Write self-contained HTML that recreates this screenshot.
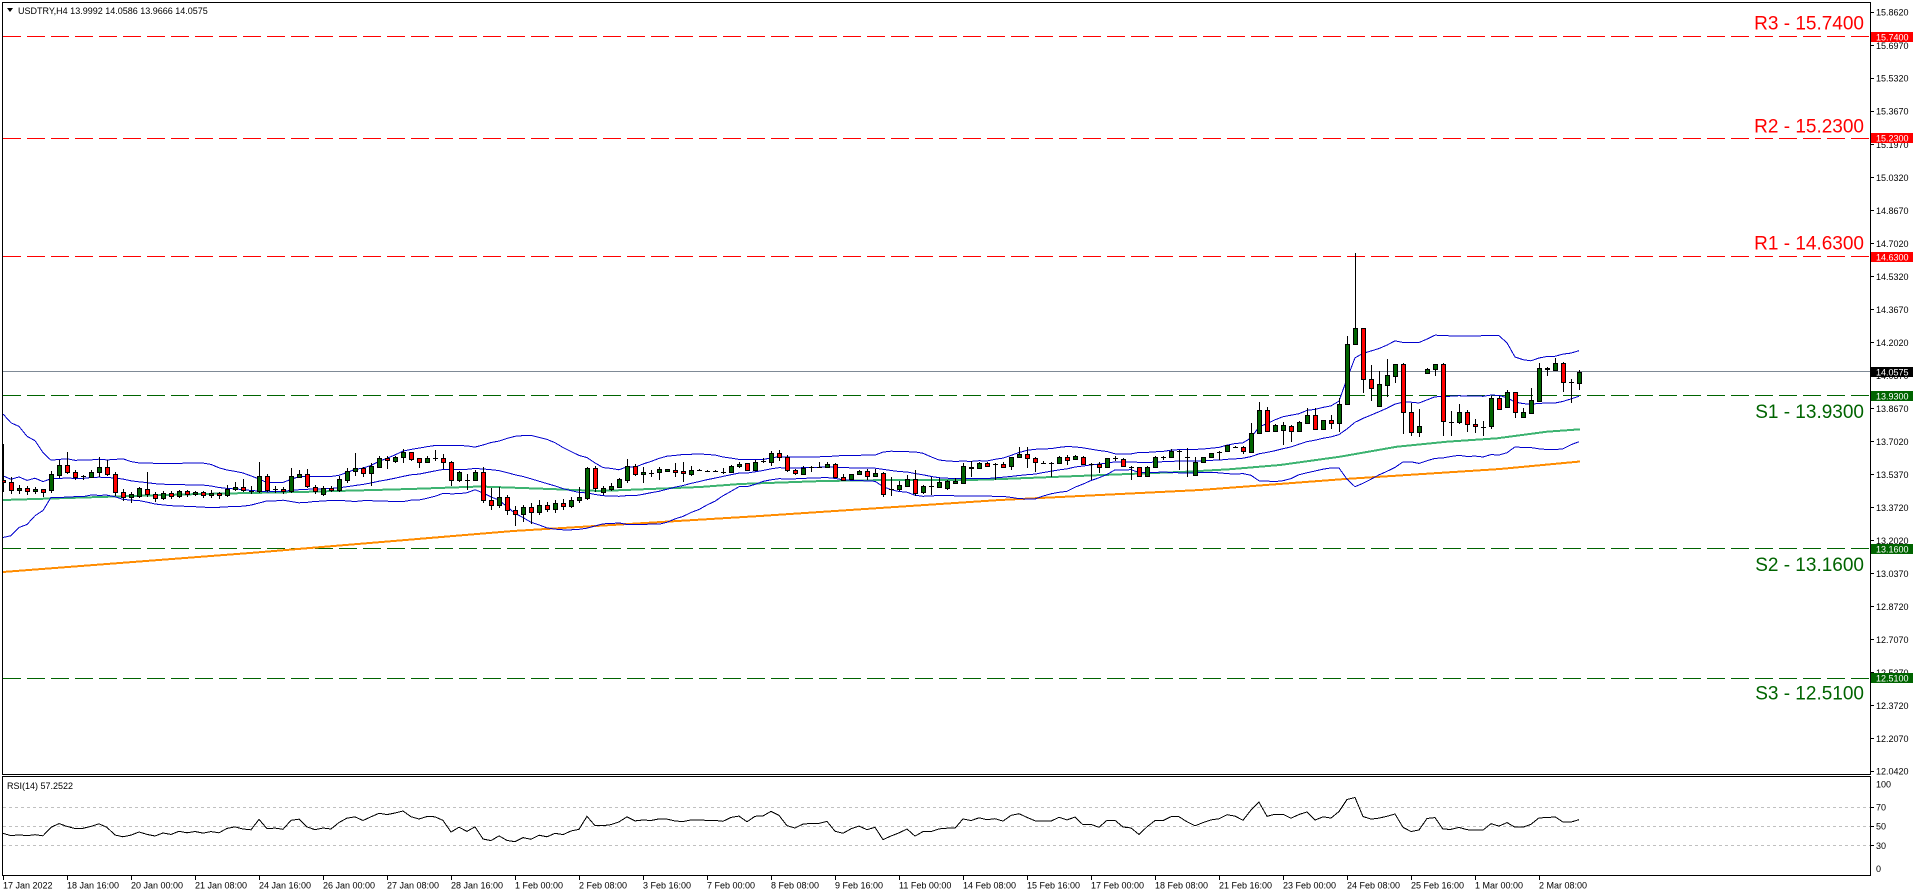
<!DOCTYPE html>
<html><head><meta charset="utf-8">
<style>
html,body{margin:0;padding:0;background:#fff;width:1916px;height:896px;overflow:hidden}
svg{display:block}
text{font-family:"Liberation Sans",sans-serif;font-size:9px;fill:#000}
.lv{font-size:19px}
</style></head><body>
<svg id="s" width="1916" height="896" viewBox="0 0 1916 896" xmlns="http://www.w3.org/2000/svg">
<defs>
<clipPath id="cm"><rect x="3" y="3" width="1867" height="771"/></clipPath>
<clipPath id="cr"><rect x="3" y="777" width="1867" height="98"/></clipPath>
</defs>
<rect width="1916" height="896" fill="#fff"/>

<g shape-rendering="crispEdges" stroke-width="1" stroke-dasharray="18 6">
<line x1="3" x2="1870" y1="36.5" y2="36.5" stroke="#ff0000"/>
<line x1="3" x2="1870" y1="138.5" y2="138.5" stroke="#ff0000"/>
<line x1="3" x2="1870" y1="256.5" y2="256.5" stroke="#ff0000"/>
<line x1="3" x2="1870" y1="395.5" y2="395.5" stroke="#006400"/>
<line x1="3" x2="1870" y1="548.5" y2="548.5" stroke="#006400"/>
<line x1="3" x2="1870" y1="678.5" y2="678.5" stroke="#006400"/>
</g>
<line x1="3" x2="1870" y1="371.5" y2="371.5" stroke="#7f8a96" stroke-width="1" shape-rendering="crispEdges"/>

<g clip-path="url(#cm)" fill="none" shape-rendering="crispEdges">
<polyline stroke="#ff8c00" stroke-width="2" points="3,572 250,553 513,531 760,516 1000,500 1200,490 1345,479 1500,469 1580,461.5"/>
<polyline stroke="#3cb371" stroke-width="2" points="3,500 100,497 200,494 300,492 410,489 480,486.5 550,489 600,491 650,489 700,487 740,484 823,481 890,480 970,480 1002,479 1103,475 1187,471.7 1229,469.3 1280,465 1340,456.7 1397,446.7 1447,441.7 1497,438.3 1547,431.7 1580,429.3"/>
<g id="bb"></g>
<g id="cdl"></g>
</g>

<g clip-path="url(#cr)" shape-rendering="crispEdges">
<g stroke="#c0c0c0" stroke-width="1" stroke-dasharray="3 3">
<line x1="3" x2="1870" y1="807.5" y2="807.5"/>
<line x1="3" x2="1870" y1="826.5" y2="826.5"/>
<line x1="3" x2="1870" y1="845.5" y2="845.5"/>
</g>
<polyline id="rsi" fill="none" stroke="#000" stroke-width="1" points=""/>
</g>

<g fill="none" stroke="#000" stroke-width="1" shape-rendering="crispEdges">
<rect x="2.5" y="2.5" width="1868" height="772"/>
<rect x="2.5" y="776.5" width="1868" height="99"/>
</g>

<!-- header -->
<polygon points="7,8 13,8 10,12" fill="#000"/>
<text x="18" y="14">USDTRY,H4  13.9992 14.0586 13.9666 14.0575</text>
<text x="7" y="789">RSI(14) 57.2522</text>

<!-- level labels -->
<text class="lv" x="1864" y="29.5" text-anchor="end" style="fill:#ff0000">R3 - 15.7400</text>
<text class="lv" x="1864" y="132.5" text-anchor="end" style="fill:#ff0000">R2 - 15.2300</text>
<text class="lv" x="1864" y="249.5" text-anchor="end" style="fill:#ff0000">R1 - 14.6300</text>
<text class="lv" x="1864" y="418" text-anchor="end" style="fill:#006400">S1 - 13.9300</text>
<text class="lv" x="1864" y="571" text-anchor="end" style="fill:#006400">S2 - 13.1600</text>
<text class="lv" x="1864" y="699.5" text-anchor="end" style="fill:#006400">S3 - 12.5100</text>

<!-- price axis ticks -->
<g stroke="#000" stroke-width="1" shape-rendering="crispEdges">
<line x1="1870" x2="1874" y1="12.5" y2="12.5"/><line x1="1870" x2="1874" y1="45.5" y2="45.5"/><line x1="1870" x2="1874" y1="78.5" y2="78.5"/><line x1="1870" x2="1874" y1="111.5" y2="111.5"/><line x1="1870" x2="1874" y1="144.5" y2="144.5"/><line x1="1870" x2="1874" y1="177.5" y2="177.5"/><line x1="1870" x2="1874" y1="210.5" y2="210.5"/><line x1="1870" x2="1874" y1="243.5" y2="243.5"/><line x1="1870" x2="1874" y1="276.5" y2="276.5"/><line x1="1870" x2="1874" y1="309.5" y2="309.5"/><line x1="1870" x2="1874" y1="342.5" y2="342.5"/><line x1="1870" x2="1874" y1="375.5" y2="375.5"/><line x1="1870" x2="1874" y1="408.5" y2="408.5"/><line x1="1870" x2="1874" y1="441.5" y2="441.5"/><line x1="1870" x2="1874" y1="474.5" y2="474.5"/><line x1="1870" x2="1874" y1="507.5" y2="507.5"/><line x1="1870" x2="1874" y1="540.5" y2="540.5"/><line x1="1870" x2="1874" y1="573.5" y2="573.5"/><line x1="1870" x2="1874" y1="606.5" y2="606.5"/><line x1="1870" x2="1874" y1="639.5" y2="639.5"/><line x1="1870" x2="1874" y1="672.5" y2="672.5"/><line x1="1870" x2="1874" y1="705.5" y2="705.5"/><line x1="1870" x2="1874" y1="738.5" y2="738.5"/><line x1="1870" x2="1874" y1="771.5" y2="771.5"/>
<line x1="1870" x2="1874" y1="807.5" y2="807.5"/><line x1="1870" x2="1874" y1="826.5" y2="826.5"/><line x1="1870" x2="1874" y1="845.5" y2="845.5"/>
</g>
<g>
<text x="1876" y="15.6">15.8620</text><text x="1876" y="49">15.6970</text><text x="1876" y="81.6">15.5320</text><text x="1876" y="114.6">15.3670</text><text x="1876" y="147.8">15.1970</text><text x="1876" y="180.8">15.0320</text><text x="1876" y="213.9">14.8670</text><text x="1876" y="246.9">14.7020</text><text x="1876" y="280">14.5320</text><text x="1876" y="313">14.3670</text><text x="1876" y="346">14.2020</text><text x="1876" y="379">14.0370</text><text x="1876" y="412">13.8670</text><text x="1876" y="445">13.7020</text><text x="1876" y="478">13.5370</text><text x="1876" y="511">13.3720</text><text x="1876" y="544">13.2020</text><text x="1876" y="577">13.0370</text><text x="1876" y="610">12.8720</text><text x="1876" y="643">12.7070</text><text x="1876" y="676">12.5370</text><text x="1876" y="709">12.3720</text><text x="1876" y="742">12.2070</text><text x="1876" y="774.5">12.0420</text>
<text x="1876" y="787.5">100</text><text x="1876" y="810.6">70</text><text x="1876" y="829.6">50</text><text x="1876" y="849">30</text><text x="1876" y="872">0</text>
</g>

<!-- axis value boxes -->
<g shape-rendering="crispEdges">
<rect x="1871" y="32" width="42" height="10" fill="#ff0000"/>
<rect x="1871" y="133" width="42" height="10" fill="#ff0000"/>
<rect x="1871" y="252" width="42" height="10" fill="#ff0000"/>
<rect x="1871" y="367" width="42" height="10" fill="#000"/>
<rect x="1871" y="391" width="42" height="10" fill="#006400"/>
<rect x="1871" y="544" width="42" height="10" fill="#006400"/>
<rect x="1871" y="673" width="42" height="10" fill="#006400"/>
</g>
<g style="fill:#fff">
<text x="1876" y="40.3" style="fill:#fff">15.7400</text>
<text x="1876" y="141.3" style="fill:#fff">15.2300</text>
<text x="1876" y="260.3" style="fill:#fff">14.6300</text>
<text x="1876" y="375.3" style="fill:#fff">14.0575</text>
<text x="1876" y="399.3" style="fill:#fff">13.9300</text>
<text x="1876" y="552.3" style="fill:#fff">13.1600</text>
<text x="1876" y="681.3" style="fill:#fff">12.5100</text>
</g>

<!-- time axis -->
<g stroke="#000" stroke-width="1" shape-rendering="crispEdges">
<line x1="3.5" x2="3.5" y1="876" y2="880"/><line x1="67.5" x2="67.5" y1="876" y2="880"/><line x1="131.5" x2="131.5" y1="876" y2="880"/><line x1="195.5" x2="195.5" y1="876" y2="880"/><line x1="259.5" x2="259.5" y1="876" y2="880"/><line x1="323.5" x2="323.5" y1="876" y2="880"/><line x1="387.5" x2="387.5" y1="876" y2="880"/><line x1="451.5" x2="451.5" y1="876" y2="880"/><line x1="515.5" x2="515.5" y1="876" y2="880"/><line x1="579.5" x2="579.5" y1="876" y2="880"/><line x1="643.5" x2="643.5" y1="876" y2="880"/><line x1="707.5" x2="707.5" y1="876" y2="880"/><line x1="771.5" x2="771.5" y1="876" y2="880"/><line x1="835.5" x2="835.5" y1="876" y2="880"/><line x1="899.5" x2="899.5" y1="876" y2="880"/><line x1="963.5" x2="963.5" y1="876" y2="880"/><line x1="1027.5" x2="1027.5" y1="876" y2="880"/><line x1="1091.5" x2="1091.5" y1="876" y2="880"/><line x1="1155.5" x2="1155.5" y1="876" y2="880"/><line x1="1219.5" x2="1219.5" y1="876" y2="880"/><line x1="1283.5" x2="1283.5" y1="876" y2="880"/><line x1="1347.5" x2="1347.5" y1="876" y2="880"/><line x1="1411.5" x2="1411.5" y1="876" y2="880"/><line x1="1475.5" x2="1475.5" y1="876" y2="880"/><line x1="1539.5" x2="1539.5" y1="876" y2="880"/>
</g>
<g>
<text x="3" y="888.5">17 Jan 2022</text>
<text x="67" y="888.5">18 Jan 16:00</text>
<text x="131" y="888.5">20 Jan 00:00</text>
<text x="195" y="888.5">21 Jan 08:00</text>
<text x="259" y="888.5">24 Jan 16:00</text>
<text x="323" y="888.5">26 Jan 00:00</text>
<text x="387" y="888.5">27 Jan 08:00</text>
<text x="451" y="888.5">28 Jan 16:00</text>
<text x="515" y="888.5">1 Feb 00:00</text>
<text x="579" y="888.5">2 Feb 08:00</text>
<text x="643" y="888.5">3 Feb 16:00</text>
<text x="707" y="888.5">7 Feb 00:00</text>
<text x="771" y="888.5">8 Feb 08:00</text>
<text x="835" y="888.5">9 Feb 16:00</text>
<text x="899" y="888.5">11 Feb 00:00</text>
<text x="963" y="888.5">14 Feb 08:00</text>
<text x="1027" y="888.5">15 Feb 16:00</text>
<text x="1091" y="888.5">17 Feb 00:00</text>
<text x="1155" y="888.5">18 Feb 08:00</text>
<text x="1219" y="888.5">21 Feb 16:00</text>
<text x="1283" y="888.5">23 Feb 00:00</text>
<text x="1347" y="888.5">24 Feb 08:00</text>
<text x="1411" y="888.5">25 Feb 16:00</text>
<text x="1475" y="888.5">1 Mar 00:00</text>
<text x="1539" y="888.5">2 Mar 08:00</text>
</g>
</svg>
<script>
var D=[[480,482.3,444,492],[482.3,490,477,494],[490,488,485,494],[488,491,486,495],[491,489,487,494],[489,492,489,497],[490,474.3,471,493],[475.3,465.3,460,478],[465.3,471.7,452.3,474],[471.7,476.7,469.5,480],
[476.3,476.3,475,480],[476.7,472.3,470,477],[471.7,467,457,476.7],[467,474,460,476],[474,492,472,496],[492,497,489,501],[497,494,492,503],[496,488.3,487,498],[488.5,494,472,497],[494,498,492,502],
[498,493,491,500],[493,496,491,499],[496,491,490,498],[491,494,490,497],[494,492,491,496],[492,495,491,498],[495,493,490,498],[493,495,492,499],[495,489,485,497],[489,487,482,491],
[487,490,479.3,492],[490,491,486,494],[491,476,462.3,493],[476,490,474,492],[490,489,485.7,493],[489,491,487,494],[491,476,468,493],[476.7,474,470,477.3],[474,486,469,488],[487.3,491,485,494],
[494,488.3,486,496],[488.3,490,486,492],[490,479.3,476,492],[480,470.7,468.3,483],[470.7,468.3,453.3,476],[468.3,473.3,466.7,476.7],[473.3,466,463.3,485.7],[466.7,458.3,456,466.7],[457.7,460,456,469.3],[460.7,456.7,456,462.7],
[456.7,452.3,449.3,462.7],[452.3,459.3,451.7,461.3],[458.3,462.3,458.3,468.3],[462.3,457.7,456,462.3],[458,458,450,461.3],[458.3,462.3,454.3,469],[462.3,480,461,485.7],[480,472.3,470.7,482.3],[480,480,474.3,490],[480,472.3,470,480.7],
[472.3,500,466.7,503],[500,505,488,510],[505,497,487.3,508],[497,510,495,515],[510,514,506,526],[514,507,505,522],[507,512,503,524],[512,505,500,515],[505,509,502,512],[509,503,500,513],
[503,506,499,510],[506,500,497,508],[500,497,487.3,503],[498,468,466.7,500],[468,488.3,465.7,492],[492,488.3,486,495],[489,485.7,483.3,491],[486.7,479.3,478.3,488],[480,466,459,483.3],[465.7,474,464,476],
[474.3,471.7,467.3,483.3],[472.7,472.7,470,476.7],[472.3,469,466.7,480],[470.7,469.3,468.5,471.5],[470,472.3,463.3,476.7],[471,473.3,462,482.3],[474,470,466,475.7],[470,470,469,471],[470.7,470.7,470,471.5],[470.7,470.7,470,471.5],
[471.7,471.7,468.3,474],[471.7,466,465,473.3],[466,464,461.7,468.3],[463.3,470,463,471],[470,461.7,460,471],[461,461,458,463],[461.7,453.3,450.7,465.7],[453.3,457.3,450,460.7],[457.3,470,455,472.3],[470.3,473.3,469,474.5],
[474.3,467.7,465.7,475],[466.7,466.7,465.7,471.7],[466.7,466.7,461.7,467.3],[466.7,464,461.7,467.5],[464,476.7,462.7,477.5],[476.7,480,474.3,481],[479.3,474.3,473.5,480],[474.3,470.7,469.5,475],[470.7,475.7,469.3,480],[475.7,472.7,469,475.7],
[473.3,494,471.7,497],[489.3,489.3,477.3,496],[489,485,480.7,490.5],[485.7,479.3,475,487],[479.3,493,470,496],[492,486,485,494],[486,486,476.7,495],[486.7,482,478.3,488],[488.3,481,480,490],[482.7,481,478.3,483.5],
[482.7,466,463.3,484],[466.7,468.3,460.7,476.7],[468.3,463.3,461.7,469],[463.3,465.7,462,467],[464,464,463,480],[463.7,467,462.3,468],[465.7,457.3,456.7,470],[457.3,454,447.3,458],[454.3,458.3,447.3,468.3],[458.3,462.3,457.3,471.7],
[462.7,462.7,461,464],[462.7,462.7,461.7,476.7],[462.7,457.3,456,463.5],[457.3,460,455,465],[459.3,456,454.7,460],[456.7,464.3,455.5,465],[464,464,463,480],[464.3,467.3,461.7,473.3],[467.3,458.3,457.5,468],[458.3,458.3,456,460.7],
[459.3,466,458.3,467],[467,467,466,480],[467.3,476,466.7,476.7],[476,466.7,465.5,477],[466.7,457.3,456,467.5],[457.3,457.3,455.7,460],[457.3,451,449,458.3],[451,451,450,470],[456.7,456.7,448.3,476.7],[475,461.7,456.7,476],
[461.7,457.3,456.5,462.5],[457.3,453.3,452.5,458],[451.7,451.7,451,460],[451.3,445.3,444.5,452],[446.7,446.7,445.5,447.5],[446.7,451,446,454.3],[451.7,432.7,423.3,452.5],[432.7,410,401.7,433.5],[410,430.7,406.7,431.5],[430.7,425,424,431.5],
[430,425,421.7,445],[425.7,431.3,425,441.7],[431,422,421,432],[422.7,415,408.3,423.5],[415.3,428.7,408.3,430],[428.7,420.3,419.5,429.5],[420,422.7,415,428.7],[422.7,404,398.3,431.7],[404,344.3,336,405],[344.3,328.3,252.7,345],
[328.3,379.3,328,392.7],[379.3,388.3,365,400.7],[405.7,384,371,406.5],[384.7,375.3,359,396.7],[375.7,364.3,364,382.7],[364.3,412.3,363.3,434.3],[412.3,432.3,402.7,435.7],[432.3,426,409.3,436.7],[373.3,369,367.7,374],[369.3,364,364,375.7],
[364,421.3,363.3,435.7],[421.7,421.7,411,435.7],[421.7,412.3,404,424.3],[412.3,424.3,410,432.3],[424,426.3,419,433.3],[426.7,426.7,421,436],[426.3,398.3,395.7,429.3],[398.3,408.7,395.7,409.3],[407.3,392.3,390,407.5],[392.3,412.3,392,418.3],
[416.7,412.3,408.3,417.3],[412.7,400.3,388.3,414.3],[400.7,368,363.3,401.7],[369,367.7,366.7,375.7],[370,363.3,357.7,371.3],[363.3,381.7,361.7,392],[381.7,381.7,379.3,403.3],[382.7,371.7,370,390]];
var W=[420,535,422,532,425,530,470,485,465,478,490,472,468,482,475,460,470,478,476];
function X(i){return 3+8*i;}
var cl=W.concat(D.map(function(d){return d[1];}));
var up=[],mid=[],lo=[];
for(var i=0;i<D.length;i++){
  var s=0,ss=0,j;
  for(j=i;j<i+20;j++)s+=cl[j];
  var m=s/20;
  for(j=i;j<i+20;j++)ss+=(cl[j]-m)*(cl[j]-m);
  var sd=Math.sqrt(ss/20);
  up.push(X(i)+','+(m-2*sd).toFixed(1));
  mid.push(X(i)+','+m.toFixed(1));
  lo.push(X(i)+','+(m+2*sd).toFixed(1));
}
var bb='';
[up,mid,lo].forEach(function(a){bb+='<polyline fill="none" stroke="#0000cd" stroke-width="1" points="'+a.join(' ')+'"/>';});
document.getElementById('bb').innerHTML=bb;
var h='';
for(i=0;i<D.length;i++){
  var d=D[i],x=X(i),o=d[0],c=d[1],hi=d[2],lw=d[3];
  h+='<line x1="'+(x+.5)+'" x2="'+(x+.5)+'" y1="'+Math.round(hi)+'" y2="'+Math.round(lw)+'" stroke="#000" stroke-width="1"/>';
  if(Math.abs(o-c)<1.2){
    var yy=Math.round(c)+.5;
    h+='<line x1="'+(x-2)+'" x2="'+(x+3)+'" y1="'+yy+'" y2="'+yy+'" stroke="#000" stroke-width="1"/>';
  }else{
    var t=Math.round(Math.min(o,c)),b=Math.round(Math.max(o,c));
    h+='<rect x="'+(x-1.5)+'" y="'+(t+.5)+'" width="4" height="'+(b-t)+'" fill="'+(c<o?'#006400':'#ff0000')+'" stroke="#000" stroke-width="1"/>';
  }
}
document.getElementById('cdl').innerHTML=h;
var ag=4.5,al=5.5,prev=476,rs=[];
for(i=0;i<D.length;i++){
  var ch=prev-D[i][1],g=ch>0?ch:0,l=ch<0?-ch:0;
  ag=(ag*13+g)/14;al=(al*13+l)/14;
  var r=100-100/(1+ag/al);
  rs.push(X(i)+','+(874.5-r*0.96).toFixed(1));
  prev=D[i][1];
}
document.getElementById('rsi').setAttribute('points',rs.join(' '));
</script>
</body></html>
